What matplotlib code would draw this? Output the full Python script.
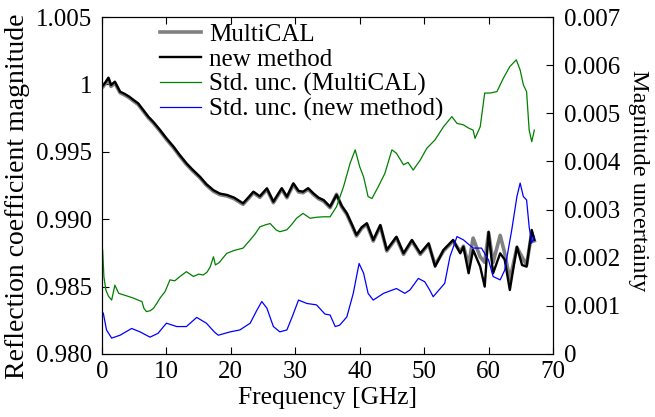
import matplotlib
matplotlib.use("Agg")
import matplotlib.pyplot as plt

plt.rcParams['font.family'] = ['Liberation Serif', 'DejaVu Serif']
plt.rcParams['font.size'] = 18

# ---------------- data ----------------
f_new = [0.2, 0.6, 1.0, 1.4, 2.0, 2.8, 3.5, 4.2, 4.9, 5.6, 6.4, 7.2, 8.0, 9.0, 10.0,
         11.1, 12.0, 13.1, 14.0, 15.2, 16.2, 17.3, 18.3, 19.4, 20.5, 21.9, 22.7, 23.5,
         24.5, 25.6, 26.6, 27.9, 28.7, 29.7, 30.5, 31.2, 32.0, 32.8, 33.6, 34.4, 35.4,
         36.4, 37.2, 38.0, 38.8, 39.5, 40.3, 41.1, 42.1, 43.2, 44.2, 45.7, 46.8, 48.1,
         49.4, 50.7, 51.7, 53.0, 54.5, 55.6, 56.1, 56.9, 57.6, 58.7, 59.4, 60.0, 60.7,
         61.8, 62.5, 63.3, 64.4, 65.2, 65.9, 66.7, 67.1]
mag_new = [0.99995, 1.0002, 1.0005, 0.99995, 1.0002, 0.99946, 0.9993, 0.9991, 0.99884,
           0.9986, 0.9981, 0.9976, 0.9972, 0.99662, 0.9960, 0.99538, 0.9948, 0.99415,
           0.9937, 0.99315, 0.9926, 0.99215, 0.9919, 0.99180, 0.9916, 0.99118, 0.9916,
           0.99204, 0.9917, 0.99229, 0.9913, 0.9923, 0.99167, 0.99266, 0.9921, 0.99204,
           0.9923, 0.99192, 0.9916, 0.99142, 0.99093, 0.9918, 0.9910, 0.99044, 0.9896,
           0.98883, 0.9894, 0.9897, 0.98846, 0.98957, 0.98772, 0.9887, 0.98747, 0.98846,
           0.98747, 0.98821, 0.98648, 0.98772, 0.98846, 0.98747, 0.98796, 0.98599,
           0.98772, 0.98648, 0.9850, 0.98907, 0.98599, 0.98747, 0.9870, 0.98475,
           0.98796, 0.9866, 0.98648, 0.9892, 0.98846]

f_mc = f_new
mag_mc = [0.99985, 1.0001, 1.0004, 0.99985, 1.0001, 0.99938, 0.99922, 0.99902, 0.99876,
          0.99852, 0.99802, 0.99752, 0.99712, 0.99654, 0.99592, 0.9953, 0.99472, 0.99407,
          0.99362, 0.99307, 0.99252, 0.99207, 0.99182, 0.99172, 0.99152, 0.9911, 0.99152,
          0.99196, 0.99162, 0.99221, 0.99122, 0.99222, 0.99159, 0.99258, 0.99202, 0.99196,
          0.99222, 0.99184, 0.99152, 0.99134, 0.99085, 0.99185, 0.99092, 0.99036, 0.98952,
          0.98875, 0.98932, 0.98962, 0.98838, 0.98949, 0.98764, 0.98862, 0.98739, 0.98838,
          0.98739, 0.98813, 0.9866, 0.98764, 0.98838, 0.98760, 0.9880, 0.9866,
          0.9886, 0.9872, 0.9868, 0.98900, 0.9868, 0.98880, 0.9875, 0.9855,
          0.98790, 0.9872, 0.9866, 0.98900, 0.98840]

f_unc_mc = [0.1, 0.3, 0.6, 1.0, 1.5, 2.0, 2.6, 3.3, 4.0, 4.9, 5.6, 6.2, 6.5, 6.9, 7.5, 8.0,
            8.5, 9.0, 9.8, 10.55, 11.3, 12.1, 13.1, 14.2, 15.0, 15.7, 16.3, 16.8, 17.3,
            17.6, 18.2, 19.35, 20.5, 21.9, 23.0, 23.8, 24.5, 25.3, 26.1, 27.0, 27.6, 28.7,
            29.5, 30.2, 31.2, 32.3, 33.3, 34.4, 35.4, 36.4, 37.5, 38.5, 39.3, 40.0, 40.6,
            41.3, 41.9, 42.9, 43.9, 45.0, 45.7, 46.8, 47.5, 48.3, 49.4, 50.4, 51.7, 53.0,
            54.3, 55.1, 56.1, 56.8, 57.6, 57.9, 58.7, 59.4, 60.2, 61.3, 62.3, 63.3, 64.3,
            64.9, 65.4, 65.9, 66.3, 66.7, 67.1]
unc_mc = [0.00216, 0.0016, 0.00133, 0.0012, 0.00112, 0.00143, 0.00126, 0.00123, 0.0012,
          0.00116, 0.00112, 0.00109, 0.00095, 0.00088, 0.0009, 0.00095, 0.00105, 0.00116,
          0.0013, 0.00154, 0.00152, 0.00161, 0.00171, 0.00161, 0.00166, 0.00164, 0.0017,
          0.00181, 0.00202, 0.00185, 0.0019, 0.00209, 0.00215, 0.0022, 0.00237, 0.0025,
          0.00264, 0.00268, 0.00271, 0.00258, 0.00254, 0.00258, 0.0027, 0.00282, 0.00292,
          0.00282, 0.00284, 0.00285, 0.00285, 0.00306, 0.00348, 0.00396, 0.00424, 0.00389,
          0.00368, 0.00327, 0.00323, 0.00348, 0.00375, 0.00424, 0.00417, 0.00393, 0.00398,
          0.00382, 0.00403, 0.00427, 0.00445, 0.00472, 0.00493, 0.00479, 0.00476, 0.0047,
          0.00465, 0.00448, 0.00472, 0.00542, 0.00542, 0.00545, 0.00573, 0.00597, 0.00611,
          0.0059, 0.00559, 0.00545, 0.00465, 0.00441, 0.00465]

f_unc_new = [0.2, 0.7, 1.5, 2.8, 4.6, 5.9, 7.45, 8.7, 10.0, 11.6, 13.1, 14.7, 16.2, 17.5,
             18.05, 19.9, 21.4, 23.0, 24.0, 24.8, 25.6, 26.6, 27.6, 28.7, 29.6, 30.5, 31.8,
             33.3, 34.6, 35.4, 36.2, 36.9, 38.0, 39.0, 39.9, 40.6, 41.3, 42.1, 43.7, 45.7,
             47.0, 47.8, 49.1, 50.1, 50.9, 51.4, 52.5, 53.2, 54.0, 55.1, 56.1, 57.6, 58.9,
             60.0, 60.7, 61.8, 62.5, 63.6, 64.4, 64.9, 65.4, 65.9, 66.3, 66.7, 67.1]
unc_new = [0.00085, 0.0005, 0.00033, 0.00039, 0.00053, 0.00046, 0.00035, 0.00043, 0.00064,
           0.00057, 0.00057, 0.00076, 0.00064, 0.00045, 0.00039, 0.00046, 0.0005, 0.00064,
           0.0009, 0.00109, 0.00095, 0.00057, 0.00046, 0.0005, 0.0008, 0.00112, 0.00105,
           0.00102, 0.00083, 0.00081, 0.00057, 0.0006, 0.00077, 0.00126, 0.00188, 0.00168,
           0.00126, 0.00112, 0.00126, 0.00136, 0.00126, 0.00133, 0.00157, 0.0015, 0.00132,
           0.00119, 0.00136, 0.00147, 0.00202, 0.00244, 0.00237, 0.0022, 0.0022, 0.00195,
           0.00161, 0.00154, 0.00174, 0.00258, 0.00327, 0.00355, 0.00327, 0.0032, 0.00264,
           0.0023, 0.00244]

left_ticks = [0.980, 0.985, 0.990, 0.995, 1.000, 1.005]
left_labels = ["0.980", "0.985", "0.990", "0.995", "1", "1.005"]
right_ticks = [0, 0.001, 0.002, 0.003, 0.004, 0.005, 0.006, 0.007]
right_labels = ["0", "0.001", "0.002", "0.003", "0.004", "0.005", "0.006", "0.007"]
x_ticks = [0, 10, 20, 30, 40, 50, 60, 70]

# ---------------- figure ----------------
fig = plt.figure(figsize=(6.55, 4.17), dpi=100)
ax1 = fig.add_axes([102/655, 1-354/417, 451/655, 337/417])
ax2 = ax1.twinx()

l1, = ax1.plot(f_mc, mag_mc, color='#808080', lw=2.6, label='MultiCAL')
l2, = ax1.plot(f_new, mag_new, color='black', lw=1.7, label='new method')
l3, = ax2.plot(f_unc_mc, unc_mc, color='#008000', lw=0.9, label='Std. unc. (MultiCAL)')
l4, = ax2.plot(f_unc_new, unc_new, color='#0000ff', lw=0.9, label='Std. unc. (new method)')

ax1.set_xlim(0, 70)
ax1.set_ylim(0.980, 1.005)
ax2.set_ylim(0, 0.007)
ax1.set_xticks(x_ticks)
ax1.set_yticks(left_ticks)
ax1.set_yticklabels(left_labels)
ax2.set_yticks(right_ticks)
ax2.set_yticklabels(right_labels)

ax1.tick_params(axis='x', direction='in', length=5, width=0.8, top=True, pad=5)
ax1.tick_params(axis='y', direction='in', length=5, width=0.8, pad=7)
ax2.tick_params(direction='in', length=5, width=0.8, pad=8)

ax1.set_xlabel('Frequency [GHz]', va='center', fontsize=18.4)
ax1.set_ylabel('Reflection coefficient magnitude', va='center', fontsize=20)
ax2.set_ylabel('Magnitude uncertainty', rotation=270, va='center', fontsize=17.5)
ax1.xaxis.set_label_coords(0.5, (354 - 398) / 337)
ax1.yaxis.set_label_coords((18 - 102) / 451, (354 - 196) / 337)
ax2.yaxis.set_label_coords((638 - 102) / 451, (354 - 181) / 337)

leg = ax2.legend(handles=[l1, l2, l3, l4], loc='upper left',
                 bbox_to_anchor=(58/451, 0.98), frameon=False, borderaxespad=0,
                 borderpad=0, labelspacing=0.08, handlelength=1.65,
                 handletextpad=0.3, fontsize=18)

fig.savefig('out.png', dpi=100)
